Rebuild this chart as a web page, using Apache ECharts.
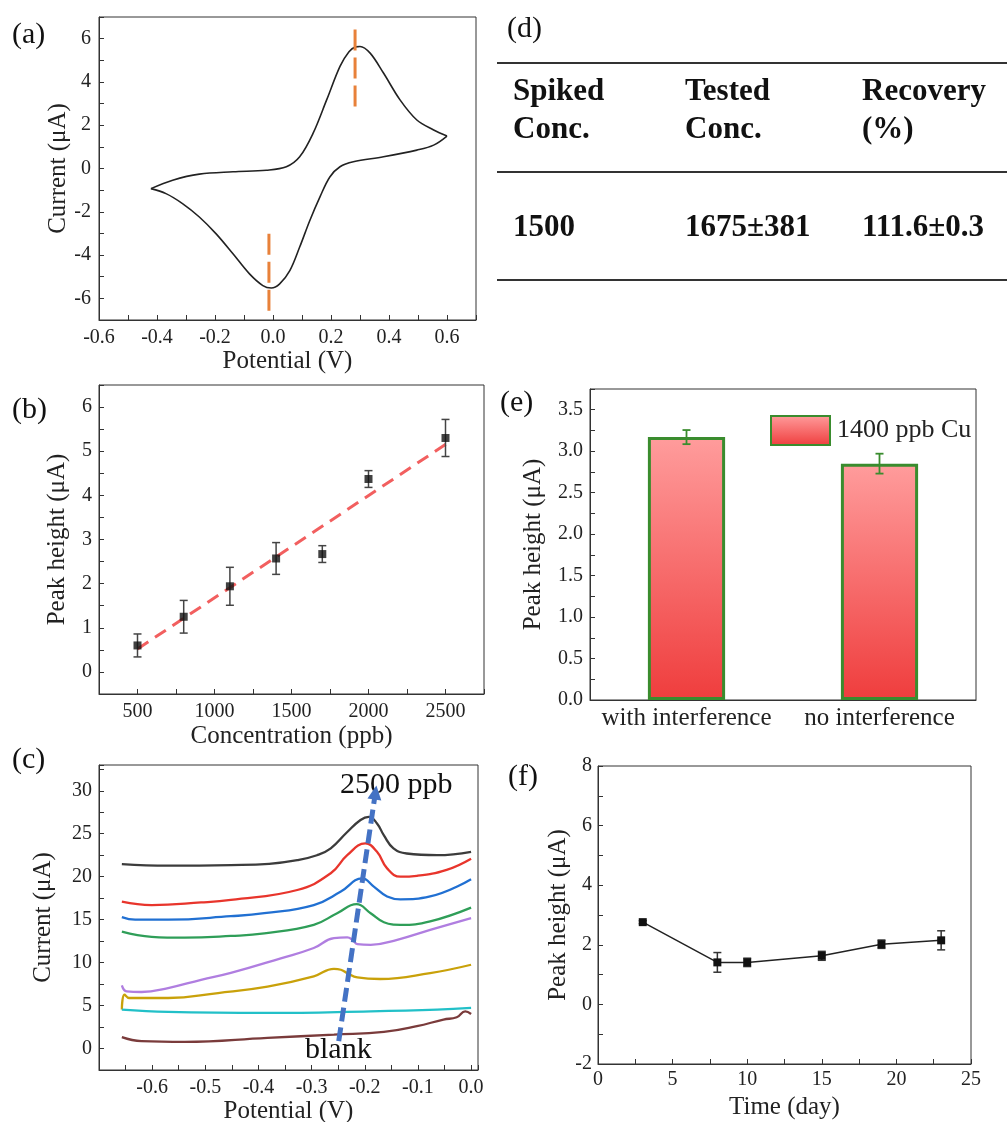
<!DOCTYPE html>
<html><head><meta charset="utf-8">
<script src="https://cdn.jsdelivr.net/npm/echarts@6/dist/echarts.min.js"></script>
<style>html,body{margin:0;padding:0;background:#fff}#c{width:1007px;height:1122px}</style>
</head><body><div id="c"></div>
<script>
// ---------- DATA ----------
// (a) cyclic voltammogram
const cvForward = [[-0.421,-0.93],[-0.346,-0.54],[-0.254,-0.26],[-0.138,-0.15],[-0.023,-0.08],[0.046,0.08],[0.092,0.54],[0.138,1.62],[0.185,3.17],[0.231,4.72],[0.262,5.4],[0.285,5.62],[0.300,5.64],[0.335,5.33],[0.381,4.41],[0.438,3.17],[0.496,2.24],[0.554,1.78],[0.600,1.50]];
const cvReverse = [[0.600,1.50],[0.554,1.08],[0.496,0.85],[0.381,0.54],[0.277,0.31],[0.231,0.08],[0.196,-0.39],[0.162,-1.31],[0.127,-2.40],[0.092,-3.63],[0.058,-4.72],[0.023,-5.33],[-0.006,-5.52],[-0.035,-5.41],[-0.081,-4.87],[-0.138,-3.94],[-0.196,-3.02],[-0.254,-2.24],[-0.312,-1.62],[-0.369,-1.16],[-0.421,-0.93]];
const cvOxMarker = [[0.283,6.42],[0.283,2.78]];
const cvRedMarker = [[-0.014,-3.02],[-0.014,-6.65]];
// (b) calibration
const bConc = [500,800,1100,1400,1700,2000,2500];
const bPeak = [0.60,1.25,1.94,2.57,2.67,4.37,5.30];
const bErr  = [0.26,0.37,0.43,0.36,0.19,0.19,0.42];
const bFit  = [[500,0.52],[2520,5.20]];
// (c) DPV curves
const cNames = ['2500 ppb','2000 ppb','1700 ppb','1400 ppb','1100 ppb','800 ppb','500 ppb','blank'];
const cColors = ['#3c3c3c','#e8352c','#2170d2','#2f9e58','#b07ee0','#c9a10a','#22c0c8','#7a3b3b'];
const c1 = [[-0.657,21.47],[-0.570,21.28],[-0.452,21.35],[-0.380,21.5],[-0.327,21.93],[-0.290,22.5],[-0.264,23.3],[-0.233,25.2],[-0.208,26.6],[-0.1925,26.97],[-0.177,26.2],[-0.164,24.8],[-0.146,23.3],[-0.121,22.7],[-0.064,22.5],[0,22.9]];
const c2 = [[-0.657,17.1],[-0.601,16.7],[-0.508,17.0],[-0.452,17.3],[-0.327,18.45],[-0.264,20.4],[-0.233,22.5],[-0.199,23.87],[-0.177,22.9],[-0.158,20.97],[-0.133,20.0],[-0.102,20.1],[-0.046,20.8],[0,22.1]];
const c3 = [[-0.657,15.3],[-0.632,15.0],[-0.570,15.0],[-0.452,15.4],[-0.389,15.75],[-0.296,16.7],[-0.245,18.27],[-0.205,19.8],[-0.183,18.85],[-0.158,17.7],[-0.133,17.37],[-0.077,17.7],[0,19.7]];
const c4 = [[-0.657,13.6],[-0.601,13.0],[-0.539,12.9],[-0.452,13.1],[-0.389,13.4],[-0.296,14.4],[-0.252,15.75],[-0.2155,16.8],[-0.189,15.75],[-0.164,14.7],[-0.133,14.4],[-0.077,14.8],[0,16.4]];
const c5 = [[-0.657,7.35],[-0.648,6.65],[-0.620,6.58],[-0.570,7.04],[-0.508,8.0],[-0.452,8.8],[-0.358,10.5],[-0.296,11.7],[-0.258,12.85],[-0.233,12.93],[-0.223,12.65],[-0.214,12.15],[-0.189,12.07],[-0.139,12.65],[-0.077,13.8],[0,15.17]];
const c6 = [[-0.657,4.53],[-0.652,6.27],[-0.643,5.88],[-0.570,5.88],[-0.476,6.46],[-0.383,7.2],[-0.296,8.4],[-0.258,9.28],[-0.245,9.17],[-0.233,8.78],[-0.214,8.28],[-0.171,8.09],[-0.077,8.78],[0,9.75]];
const c7 = [[-0.657,4.53],[-0.570,4.26],[-0.383,4.14],[-0.189,4.33],[-0.064,4.53],[0,4.72]];
const c8 = [[-0.657,1.32],[-0.620,0.85],[-0.539,0.77],[-0.383,1.24],[-0.258,1.62],[-0.164,1.93],[-0.102,2.6],[-0.052,3.37],[-0.027,3.64],[-0.011,4.33],[0,4.02]];
const cArrow = [[-0.249,0.85],[-0.180,29.8]];
// (d) table
const tHeader = [['Spiked','Conc.'],['Tested','Conc.'],['Recovery','(%)']];
const tRow = ['1500','1675±381','111.6±0.3'];
// (e) interference
const eCats = ['with interference','no interference'];
const eVals = [3.17,2.85];
const eErr  = [0.085,0.12];
// (f) stability
const fDay  = [3,8,10,15,19,23];
const fPeak = [2.76,1.41,1.41,1.63,2.02,2.15];
const fErr  = [0.05,0.33,0.14,0.15,0.14,0.32];

// ---------- HELPERS ----------
const SERIF = '"Liberation Serif","Times New Roman",serif';
const AX = '#333';
function fmt(step, dec, skip){
  return function(v){
    const r = v/step;
    if (Math.abs(r-Math.round(r))>1e-6) return '';
    if (skip && skip(v)) return '';
    let s = v.toFixed(dec);
    if (parseFloat(s)===0) s=(0).toFixed(dec);
    return s;
  };
}
function vAxis(gi, o){
  return {
    type:'value', gridIndex:gi, min:o.min, max:o.max, interval:o.interval,
    axisLine:{show:true,onZero:false,lineStyle:{color:AX,width:1}},
    axisTick:{show:true,inside:true,length:5,lineStyle:{color:AX}},
    splitLine:{show:false},
    axisLabel:{formatter:o.fmt,fontFamily:SERIF,fontSize:20,color:'#222',margin:o.margin||8},
    name:o.name,nameLocation:'middle',nameGap:o.gap,
    nameTextStyle:{fontFamily:SERIF,fontSize:25,color:'#222'}
  };
}
function errRender(color, cap, w){
  return function(params, api){
    const x=api.value(0), y=api.value(1), e=api.value(2);
    const hi=api.coord([x,y+e]), lo=api.coord([x,y-e]);
    const s={stroke:color,lineWidth:w};
    return {type:'group',children:[
      {type:'line',shape:{x1:hi[0],y1:hi[1],x2:lo[0],y2:lo[1]},style:s},
      {type:'line',shape:{x1:hi[0]-cap,y1:hi[1],x2:hi[0]+cap,y2:hi[1]},style:s},
      {type:'line',shape:{x1:lo[0]-cap,y1:lo[1],x2:lo[0]+cap,y2:lo[1]},style:s}
    ]};
  };
}
function gridBox(l,t,w,h){return {left:l,top:t,width:w,height:h,show:true,borderColor:AX,borderWidth:1,backgroundColor:'transparent',containLabel:false,outerBoundsMode:'none'};}

const cSeries = [c1,c2,c3,c4,c5,c6,c7,c8].map((d,i)=>({
  type:'line',name:cNames[i],xAxisIndex:2,yAxisIndex:2,data:d,showSymbol:false,smooth:0.45,
  lineStyle:{color:cColors[i],width:2.3},itemStyle:{color:cColors[i]},z:2
}));

// table & annotation graphics
const tableG = [];
const colX = [513,685,862];
[63,172,280].forEach(y=>tableG.push({type:'line',shape:{x1:497,y1:y,x2:1007,y2:y},style:{stroke:'#333',lineWidth:2}}));
tHeader.forEach((h,i)=>{
  tableG.push({type:'text',x:colX[i],y:92,style:{text:h[0],font:'bold 31px '+SERIF,fill:'#111',verticalAlign:'middle'}});
  tableG.push({type:'text',x:colX[i],y:130,style:{text:h[1],font:'bold 31px '+SERIF,fill:'#111',verticalAlign:'middle'}});
});
tRow.forEach((t,i)=>tableG.push({type:'text',x:colX[i],y:228,style:{text:t,font:'bold 31px '+SERIF,fill:'#111',verticalAlign:'middle'}}));
const panelLabels = [['(a)',12,35],['(b)',12,410],['(c)',12,760],['(d)',507,29],['(e)',500,403],['(f)',508,777]];
panelLabels.forEach(p=>tableG.push({type:'text',x:p[1],y:p[2],style:{text:p[0],font:'30px '+SERIF,fill:'#111',verticalAlign:'middle'}}));
tableG.push({type:'text',x:340,y:785,style:{text:'2500 ppb',font:'30px '+SERIF,fill:'#111',verticalAlign:'middle'}});
tableG.push({type:'text',x:305,y:1050,style:{text:'blank',font:'30px '+SERIF,fill:'#111',verticalAlign:'middle'}});

const option = {
  animation:false,
  backgroundColor:'#fff',
  grid:[gridBox(99,17,377,303),gridBox(99,385,385,309),gridBox(99,765,379,305),gridBox(590,389,386,311),gridBox(598,766,373,298)],
  xAxis:[
    vAxis(0,{min:-0.6,max:0.7,interval:0.1,fmt:fmt(0.2,1),name:'Potential (V)',gap:28}),
    vAxis(1,{min:250,max:2750,interval:250,fmt:fmt(500,0),name:'Concentration (ppb)',gap:30}),
    vAxis(2,{min:-0.7,max:0.013,interval:0.05,fmt:fmt(0.1,1,v=>v<-0.65),name:'Potential (V)',gap:25}),
    {type:'category',gridIndex:3,data:eCats,
      axisLine:{show:true,lineStyle:{color:AX}},axisTick:{show:true,inside:true,alignWithLabel:true,length:5,lineStyle:{color:AX}},
      axisLabel:{interval:0,hideOverlap:false,fontFamily:SERIF,fontSize:25,color:'#222',margin:6}},
    vAxis(4,{min:0,max:25,interval:2.5,fmt:fmt(5,0),name:'Time (day)',gap:31,margin:6})
  ],
  yAxis:[
    vAxis(0,{min:-7,max:7,interval:1,fmt:fmt(2,0),name:'Current (μA)',gap:28}),
    vAxis(1,{min:-0.5,max:6.5,interval:0.5,fmt:fmt(1,0),name:'Peak height (μA)',gap:29,margin:7}),
    vAxis(2,{min:-2.5,max:33,interval:2.5,fmt:fmt(5,0),name:'Current (μA)',gap:43,margin:7}),
    vAxis(3,{min:0,max:3.75,interval:0.25,fmt:fmt(0.5,1),name:'Peak height (μA)',gap:44,margin:7}),
    vAxis(4,{min:-2,max:8,interval:1,fmt:fmt(2,0),name:'Peak height (μA)',gap:27,margin:6})
  ],
  legend:{data:['1400 ppb Cu'],left:765,top:410,itemWidth:59,itemHeight:29,itemGap:8,icon:'rect',
    textStyle:{fontFamily:SERIF,fontSize:26,color:'#222',padding:[0,0,0,2]}},
  graphic:tableG,
  series:[
    // (a)
    {type:'line',xAxisIndex:0,yAxisIndex:0,data:cvForward,showSymbol:false,smooth:0.35,lineStyle:{color:'#222',width:1.6}},
    {type:'line',xAxisIndex:0,yAxisIndex:0,data:cvReverse,showSymbol:false,smooth:0.35,lineStyle:{color:'#222',width:1.6}},
    {type:'line',xAxisIndex:0,yAxisIndex:0,data:cvOxMarker,showSymbol:false,lineStyle:{color:'#e8813a',width:3,type:[21,7]},z:3},
    {type:'line',xAxisIndex:0,yAxisIndex:0,data:cvRedMarker,showSymbol:false,lineStyle:{color:'#e8813a',width:3,type:[21,7]},z:3},
    // (b)
    {type:'line',xAxisIndex:1,yAxisIndex:1,data:bFit,showSymbol:false,lineStyle:{color:'#f25f5f',width:3,type:[13,8]},z:2},
    {type:'custom',xAxisIndex:1,yAxisIndex:1,data:bConc.map((x,i)=>[x,bPeak[i],bErr[i]]),encode:{x:0,y:1},renderItem:errRender('#444',4,1.5),z:3},
    {type:'scatter',xAxisIndex:1,yAxisIndex:1,data:bConc.map((x,i)=>[x,bPeak[i]]),symbol:'rect',symbolSize:8,itemStyle:{color:'#111'},z:4},
    // (c)
    ...cSeries,
    {type:'lines',coordinateSystem:'cartesian2d',xAxisIndex:2,yAxisIndex:2,data:[{coords:cArrow}],
      symbol:['none','triangle'],symbolSize:[13,14],lineStyle:{color:'#4472c4',width:5,type:[14,6],opacity:1},z:5},
    // (e)
    {type:'bar',name:'1400 ppb Cu',xAxisIndex:3,yAxisIndex:3,data:eVals,barWidth:'40%',
      itemStyle:{color:new echarts.graphic.LinearGradient(0,0,0,1,[{offset:0,color:'#ff9c9c'},{offset:1,color:'#ef3d3d'}]),borderColor:'#3a8c2e',borderWidth:3}},
    {type:'custom',xAxisIndex:3,yAxisIndex:3,data:eCats.map((c,i)=>[i,eVals[i],eErr[i]]),encode:{x:0,y:1},renderItem:errRender('#3a8c2e',4,1.8),z:5},
    // (f)
    {type:'custom',xAxisIndex:4,yAxisIndex:4,data:fDay.map((x,i)=>[x,fPeak[i],fErr[i]]),encode:{x:0,y:1},renderItem:errRender('#333',4,1.5),z:3},
    {type:'line',xAxisIndex:4,yAxisIndex:4,data:fDay.map((x,i)=>[x,fPeak[i]]),symbol:'rect',symbolSize:8,showSymbol:true,
      lineStyle:{color:'#222',width:1.5},itemStyle:{color:'#111'},z:4}
  ]
};
const chart = echarts.init(document.getElementById('c'),null,{renderer:'canvas'});
chart.setOption(option);
</script></body></html>
